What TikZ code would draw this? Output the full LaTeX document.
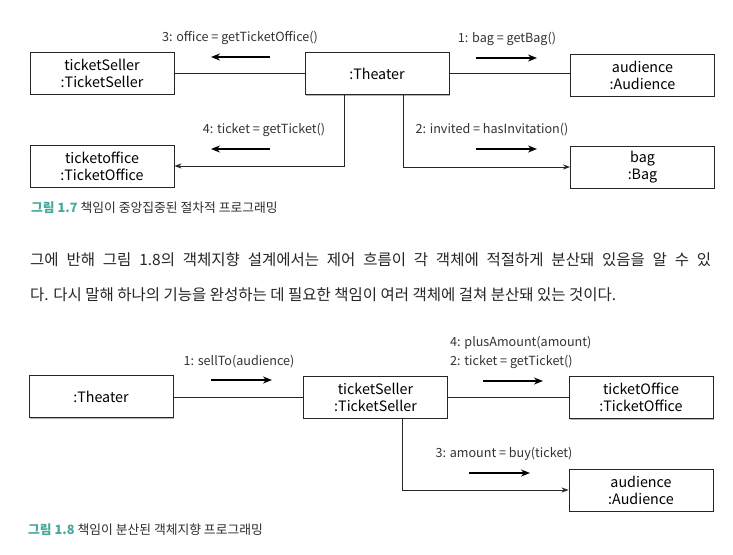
\documentclass[tikz,border=0pt]{standalone}
\usepackage{fontspec}
\setmainfont{Noto Sans CJK KR}
\usetikzlibrary{arrows.meta,shadows}
\definecolor{capteal}{RGB}{72,168,158}
\definecolor{txtgray}{RGB}{45,45,45}
\begin{document}
\begin{tikzpicture}[x=1pt,y=-1pt,
  obj/.style={draw=black!85, line width=0.9pt, fill=white, minimum width=144pt,
    minimum height=42pt, align=center, font=\fontsize{14.3}{17}\selectfont, inner sep=0pt,
    drop shadow={shadow xshift=0.8pt, shadow yshift=-1.3pt, opacity=0.5, fill=black!60}},
  lbl/.style={font=\fontsize{12.6}{14}\selectfont, text=black!80, inner sep=0pt},
  msg/.style={line width=1.6pt, -{Stealth[length=9pt,width=7pt]}},
  link/.style={line width=0.8pt, draw=black!85},
  linka/.style={link, -{Stealth[length=7pt,width=5pt]}},
  captext/.style={anchor=west, inner sep=0pt, font=\fontsize{12.8}{14}\selectfont, text=txtgray},
  para/.style={anchor=west, inner sep=0pt, font=\fontsize{15.5}{18}\selectfont, text=black!85},
]
\useasboundingbox (0,0) rectangle (733,554);
\fill[white] (0,0) rectangle (733,554);

% ---------- Figure 1.7 ----------
\node[obj] (ts) at (102,73) {ticketSeller\\:TicketSeller};
\node[obj] (th) at (377,73.5) {:Theater};
\node[obj] (au) at (642.5,75) {audience\\:Audience};
\node[obj] (to) at (102,166) {ticketoffice\\:TicketOffice};
\node[obj] (bg) at (642.5,167) {bag\\:Bag};

\coordinate (thL) at ([xshift=-33pt]th.south);
\coordinate (thR) at ([xshift=26pt]th.south);
\draw[link] (th.west) -- (th.west -| ts.east);
\draw[link] (th.east) -- (th.east -| au.west);
\draw[linka] (thL) |- (to.east);
\draw[linka] (thR) |- (bg.west);

\node[lbl] (l3) at (240,38) {3: office = getTicketOffice()};
\coordinate (m3a) at (270,57); \coordinate (m3b) at (211,57);
\draw[msg] (m3a) -- (m3b);
\node[lbl] (l4) at (264,130) {4: ticket = getTicket()};
\coordinate (m4a) at (270,149); \coordinate (m4b) at (211,149);
\draw[msg] (m4a) -- (m4b);
\node[lbl] (l1) at (507,39) {1: bag = getBag()};
\coordinate (m1a) at (476,58); \coordinate (m1b) at (537,58);
\draw[msg] (m1a) -- (m1b);
\node[lbl] (l2) at (492,130) {2: invited = hasInvitation()};
\coordinate (m2a) at (476,149); \coordinate (m2b) at (537,149);
\draw[msg] (m2a) -- (m2b);

\node[captext] (c17) at (31,208) {\textcolor{capteal}{\textbf{그림 1.7}} 책임이 중앙집중된 절차적 프로그래밍};

% ---------- paragraph ----------
\node[para] (p1) at (30,260) {\makebox[681pt][s]{그에 반해 그림 1.8의 객체지향 설계에서는 제어 흐름이 각 객체에 적절하게 분산돼 있음을 알 수 있}};
\node[para] (p2) at (30,295) {다. 다시 말해 하나의 기능을 완성하는 데 필요한 책임이 여러 객체에 걸쳐 분산돼 있는 것이다.};

% ---------- Figure 1.8 ----------
\node[obj] (th2) at (101,396.5) {:Theater};
\node[obj] (ts2) at (375.5,397) {ticketSeller\\:TicketSeller};
\node[obj] (tof) at (641,397.5) {ticketOffice\\:TicketOffice};
\node[obj] (au2) at (641,490) {audience\\:Audience};

\coordinate (tsB) at ([xshift=26.5pt]ts2.south);
\draw[link] (ts2.west) -- (ts2.west -| th2.east);
\draw[link] (ts2.east) -- (ts2.east -| tof.west);
\draw[linka] (tsB) |- (au2.west);

\node[lbl] (s1) at (239,362) {1: sellTo(audience)};
\coordinate (s1a) at (211,380); \coordinate (s1b) at (272,380);
\draw[msg] (s1a) -- (s1b);
\node[lbl, anchor=west] (s4) at (450,343) {4: plusAmount(amount)};
\node[lbl, anchor=west] (s2) at (450,362) {2: ticket = getTicket()};
\coordinate (s2a) at (483,381); \coordinate (s2b) at (543,381);
\draw[msg] (s2a) -- (s2b);
\node[lbl] (s3) at (504,454) {3: amount = buy(ticket)};
\coordinate (s3a) at (469,473); \coordinate (s3b) at (530,473);
\draw[msg] (s3a) -- (s3b);

\node[captext] (c18) at (28,530) {\textcolor{capteal}{\textbf{그림 1.8}} 책임이 분산된 객체지향 프로그래밍};
\end{tikzpicture}
\end{document}
